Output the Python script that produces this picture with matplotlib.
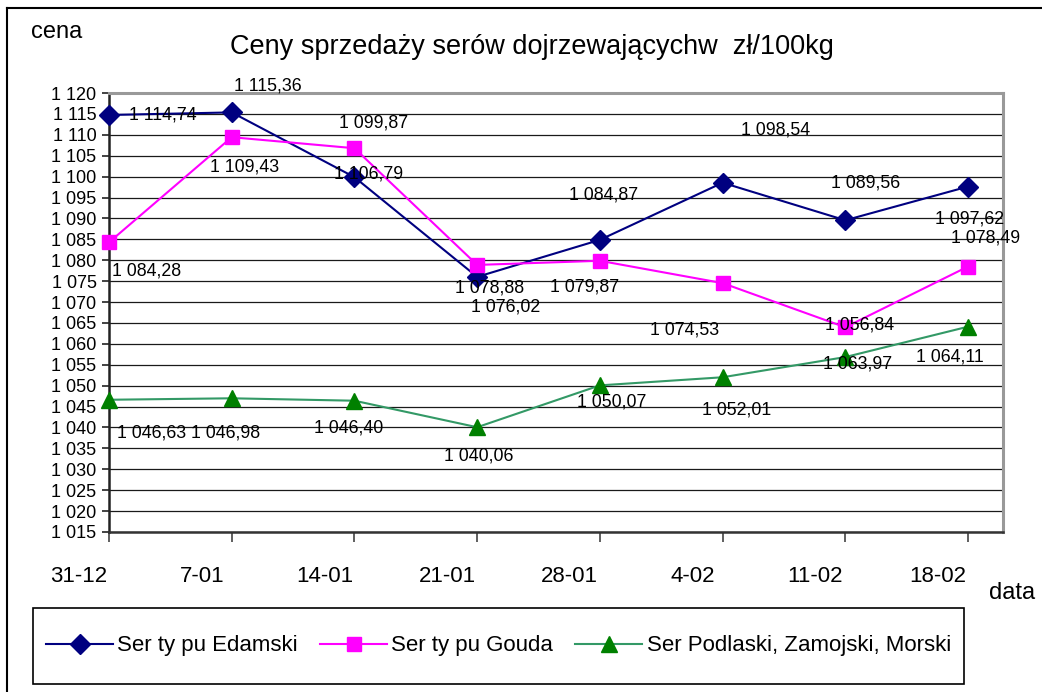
import matplotlib
matplotlib.use("Agg")
import matplotlib.pyplot as plt
from matplotlib.lines import Line2D
from matplotlib.patches import Rectangle
import numpy as np

plt.rcParams['font.family'] = ['Liberation Sans', 'DejaVu Sans']

# ---------------- data ----------------
categories = ["31-12", "7-01", "14-01", "21-01", "28-01", "4-02", "11-02", "18-02"]
edamski = [1114.74, 1115.36, 1099.87, 1076.02, 1084.87, 1098.54, 1089.56, 1097.62]
gouda = [1084.28, 1109.43, 1106.79, 1078.88, 1079.87, 1074.53, 1063.97, 1078.49]
podlaski = [1046.63, 1046.98, 1046.40, 1040.06, 1050.07, 1052.01, 1056.84, 1064.11]
series_names = ["Ser ty pu Edamski", "Ser ty pu Gouda", "Ser Podlaski, Zamojski, Morski"]
y_ticks = list(range(1015, 1121, 5))
title = "Ceny sprzedaży serów dojrzewającychw  zł/100kg"

# label offsets (pixels) relative to each point -- layout only
off_edamski = [(54, 0), (36, 26), (19, 54), (28, -30), (4, 45), (53, 53), (20, 37), (2, -32)]
off_gouda = [(38, -29), (13, -30), (14, -26), (12, -23), (-15, -26), (-38, -47), (12, -37), (18, 29)]
off_podlaski = [(43, -33), (-6, -35), (-6, -27), (2, -29), (12, -17), (14, -33), (14, 32), (-18, -30)]

W, H = 1042, 692
fig = plt.figure(figsize=(W / 100, H / 100), dpi=100)
ax = fig.add_axes([109 / W, 1 - 532 / H, (1003 - 109) / W, (532 - 93) / H])

x = np.arange(len(categories))

def fmt(v):
    s = f"{v:,.2f}"
    return s.replace(",", " ").replace(".", ",")

styles = [
    dict(color="#000080", marker="D", markersize=10, mfc="#000080", mec="#000080"),
    dict(color="#FF00FF", marker="s", markersize=10, mfc="#FF00FF", mec="#FF00FF"),
    dict(color="#339966", marker="^", markersize=11.5, mfc="#008000", mec="#008000"),
]
datas = [edamski, gouda, podlaski]
offs = [off_edamski, off_gouda, off_podlaski]

handles = []
for d, st, name in zip(datas, styles, series_names):
    h, = ax.plot(x, d, lw=1.5, label=name, zorder=3, clip_on=False, **st)
    handles.append(h)

for d, off in zip(datas, offs):
    for xi, v, (dx, dy) in zip(x, d, off):
        ax.annotate(fmt(v), xy=(xi, v), xytext=(dx, dy), textcoords="offset pixels",
                    ha="center", va="center", fontsize=12.8, color="black", zorder=5)

ax.set_xlim(0, 7.285)
ax.set_ylim(1015, 1120)
ax.set_yticks(y_ticks)
ax.set_yticklabels([f"{t:,}".replace(",", " ") for t in y_ticks], fontsize=13)
ax.set_xticks(x)
ax.set_xticklabels([""] * len(x))
ax.tick_params(axis="y", direction="out", length=5, width=1.2, pad=4, colors="#222222", labelcolor="black")
ax.tick_params(axis="x", direction="out", length=7, width=1.2, colors="#444444")

for t in y_ticks:
    ax.axhline(t, color="#1a1a1a", lw=0.9, zorder=1)

for i, c in enumerate(categories):
    ax.annotate(c, xy=(i, 0), xycoords=("data", "axes fraction"), xytext=(-30, -45),
                textcoords="offset pixels", ha="center", va="center", fontsize=16)

ax.spines["left"].set_color("#222222")
ax.spines["left"].set_linewidth(1.8)
ax.spines["bottom"].set_color("#333333")
ax.spines["bottom"].set_linewidth(1.8)
ax.spines["top"].set_color("#999999")
ax.spines["top"].set_linewidth(2.2)
ax.spines["right"].set_color("#999999")
ax.spines["right"].set_linewidth(2.2)

fig.text(532 / W, 1 - 47 / H, title, ha="center", va="center", fontsize=19.5)
fig.text(57 / W, 1 - 32 / H, "cena", ha="center", va="center", fontsize=17)
fig.text(1012 / W, 1 - 593 / H, "data", ha="center", va="center", fontsize=17)

# outer frame
fig.add_artist(Line2D([7 / W, 1.0], [1 - 8 / H, 1 - 8 / H], color="black", lw=1.5, transform=fig.transFigure))
fig.add_artist(Line2D([7 / W, 7 / W], [1 - 8 / H, 0], color="black", lw=1.5, transform=fig.transFigure))

# legend box
fig.add_artist(Rectangle((33 / W, 1 - 684 / H), (964 - 33) / W, (684 - 608) / H,
                         transform=fig.transFigure, fill=False, ec="black", lw=1.2))
leg = fig.legend(handles=handles, loc="center", bbox_to_anchor=((33 + 964) / 2 / W, 1 - 646 / H),
                 ncol=3, frameon=False, fontsize=16, handlelength=3.0, handletextpad=0.2,
                 columnspacing=1.0, borderaxespad=0)

fig.savefig("out.png", dpi=100)
